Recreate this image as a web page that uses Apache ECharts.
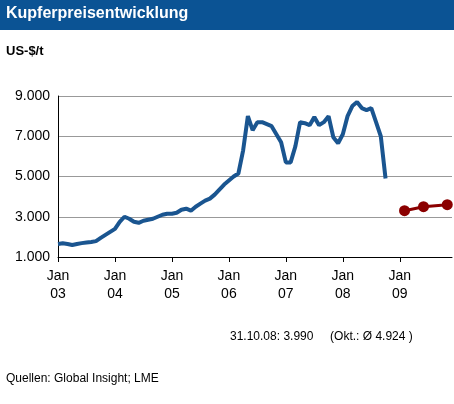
<!DOCTYPE html><html><head><meta charset="utf-8"><script src="https://cdn.jsdelivr.net/npm/echarts@6/dist/echarts.min.js"></script>
<style>body{margin:0;background:#fff}#c{width:454px;height:404px}</style></head><body><div id="c"></div><script>
const years=['03','04','05','06','07','08','09'];
const actual=[1650,1680,1650,1600,1650,1690,1720,1750,1790,1950,2100,2250,
2400,2750,3000,2900,2750,2700,2800,2850,2900,3000,3100,3150,
3150,3200,3350,3400,3300,3500,3650,3800,3900,4100,4350,4600,
4800,5000,5150,6300,8000,7300,7700,7700,7600,7500,7100,6700,
5700,5700,6500,7700,7650,7550,7950,7550,7700,8000,6950,6650,
7100,8000,8500,8700,8400,8300,8400,7700,7000,4900];
const forecast=[[73,3300],[77,3500],[82,3600]];
const months=[];for(let y=0;y<7;y++)for(let m=0;m<12;m++)months.push(m===0?'Jan\n'+years[y]:'');
const ch=echarts.init(document.getElementById('c'));
const F='Liberation Sans, Arial';
ch.setOption({animation:false,
graphic:[{type:'rect',shape:{x:0,y:0,width:454,height:30},style:{fill:'#0b5394'}},
{type:'text',left:6,top:6,style:{text:'Kupferpreisentwicklung',fill:'#fff',font:'bold 16px '+F}},
{type:'text',left:6,top:45,style:{text:'US-$/t',fill:'#000',font:'bold 13px '+F}},
{type:'text',left:230,top:331,style:{text:'31.10.08: 3.990     (Okt.: Ø 4.924 )',fill:'#000',font:'12px '+F}},
{type:'text',left:6,top:373,style:{text:'Quellen: Global Insight; LME',fill:'#000',font:'12px '+F}}],
grid:{left:58,right:2,top:96,bottom:147},
xAxis:{type:'category',data:months,boundaryGap:false,axisLine:{lineStyle:{color:'#000'}},
axisTick:{interval:(i)=>i%12===0,length:5,lineStyle:{color:'#000'}},
axisLabel:{interval:(i)=>i%12===0,color:'#000',fontSize:14,fontFamily:F,lineHeight:18,margin:10},splitLine:{show:false}},
yAxis:{type:'value',min:1000,max:9000,interval:2000,axisLine:{show:true,lineStyle:{color:'#000'}},
axisLabel:{color:'#000',fontSize:14,fontFamily:F,formatter:v=>(v/1000).toFixed(3)},
splitLine:{lineStyle:{color:'#999'}}},
series:[{type:'line',data:actual,showSymbol:false,lineStyle:{color:'#1a5590',width:4}},
{type:'line',data:forecast,symbol:'circle',symbolSize:11,showSymbol:true,showAllSymbol:true,z:5,itemStyle:{color:'#8b0000'},lineStyle:{color:'#8b0000',width:3}}]});
</script></body></html>
